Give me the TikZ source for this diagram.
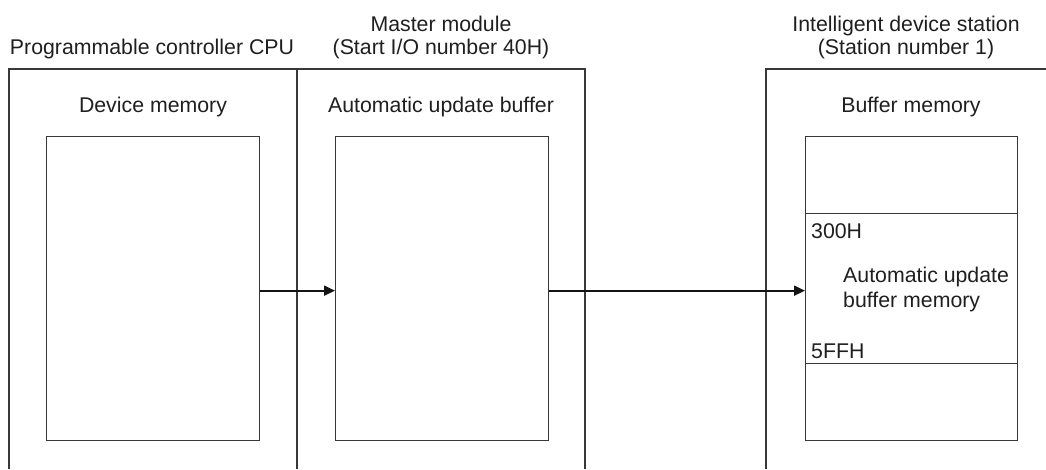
\documentclass[tikz,border=0pt]{standalone}
\usepackage{fontspec}
\setmainfont{Liberation Sans}
\usetikzlibrary{arrows.meta}
\begin{document}
\begin{tikzpicture}[x=1pt,y=-1pt,
  frame/.style={draw=black!78,line width=1.3pt},
  membox/.style={draw=black!78,line width=1.3pt,minimum width=213pt,inner sep=0pt,anchor=north west},
  lbl/.style={font=\fontsize{21.3}{25}\selectfont,text=black!88,inner sep=0pt,anchor=base},
  lblw/.style={lbl,anchor=base west},
  arr/.style={draw=black!92,line width=1.8pt,-{Triangle[length=11pt,width=10pt]}}
]
\useasboundingbox (0,0) rectangle (1046,469);
% frames
\coordinate (f1) at (9,469);
\coordinate (f1t) at (9,69);
\coordinate (f2t) at (297,69);
\coordinate (f2) at (297,469);
\coordinate (f3t) at (585,69);
\coordinate (f3) at (585,469);
\coordinate (f4) at (766,469);
\coordinate (f4t) at (766,69);
\coordinate (f4r) at (1046,69);
\draw[frame] (f1) -- (f1t) -- (f3t) -- (f3);
\draw[frame] (f2t) -- (f2);
\draw[frame] (f4) -- (f4t) -- (f4r);
% titles
\node[lbl] (cpu) at (152,54) {Programmable controller CPU};
\node[lbl] (mm1) at (441,31) {Master module};
\node[lbl] (mm2) at (441,54) {(Start I/O number 40H)};
\node[lbl] (ids1) at (906,31) {Intelligent device station};
\node[lbl] (ids2) at (906,54) {(Station number 1)};
\node[lbl] (dmt) at (153,112) {Device memory};
\node[lbl] (aubt) at (441,112) {Automatic update buffer};
\node[lbl] (bmt) at (911,112) {Buffer memory};
% memory boxes
\node[membox,minimum height=304pt] (dm) at (46,136) {};
\node[membox,minimum height=304pt] (aub) at (335,136) {};
\node[membox,minimum width=212pt,minimum height=77pt] (bm1) at (805,136) {};
\node[membox,minimum width=212pt,minimum height=150pt] (bm2) at (805,213) {};
\node[membox,minimum width=212pt,minimum height=77pt] (bm3) at (805,363) {};
\node[lblw] (a300) at (811,238) {300H};
\node[lblw] (a5ff) at (811,358) {5FFH};
\node[lblw] (aubm1) at (843,282) {Automatic update};
\node[lblw] (aubm2) at (843,307) {buffer memory};
% arrows
\draw[arr] ([yshift=-2pt]dm.east) -- ([yshift=-2pt]aub.west);
\draw[arr] ([yshift=-2pt]aub.east) -- ([yshift=-2pt]bm2.west);
\end{tikzpicture}
\end{document}
